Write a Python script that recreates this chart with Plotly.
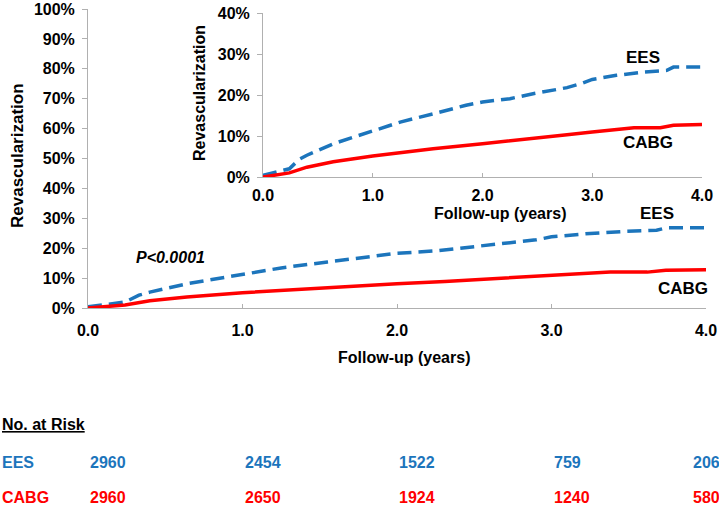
import plotly.graph_objects as go

# cumulative revascularization (years, fraction)
t_ees = [0, 0.1, 0.24, 0.33, 0.4, 0.64, 1.0, 1.25, 1.55, 1.85, 2.0, 2.25, 2.46, 2.77, 2.9, 3.0, 3.22, 3.47, 3.68, 3.74, 4.0]
v_ees = [0.004, 0.01, 0.02, 0.043, 0.053, 0.081, 0.111, 0.134, 0.154, 0.175, 0.183, 0.191, 0.203, 0.218, 0.228, 0.238, 0.248, 0.256, 0.26, 0.268, 0.268]
t_cabg = [0, 0.1, 0.24, 0.4, 0.64, 1.0, 1.55, 2.0, 2.31, 2.77, 3.0, 3.38, 3.62, 3.74, 4.0]
v_cabg = [0.0, 0.004, 0.01, 0.024, 0.037, 0.051, 0.069, 0.081, 0.089, 0.103, 0.11, 0.12, 0.12, 0.126, 0.128]

risk_times = [0, 1, 2, 3, 4]
risk_ees = [2960, 2454, 1522, 759, 206]
risk_cabg = [2960, 2650, 1924, 1240, 580]

BLUE = "#1c75bc"
RED = "#ff0000"
FONT = "Arial, Liberation Sans, sans-serif"
W, H = 719, 515

def px(x):
    return x / W

def py(y):
    return 1 - y / H

fig = go.Figure()
for xa, ya in [("x", "y"), ("x2", "y2")]:
    fig.add_trace(go.Scatter(x=t_ees, y=v_ees, mode="lines", xaxis=xa, yaxis=ya,
                             line=dict(color=BLUE, width=3.5, dash="14px,7px"), showlegend=False))
    fig.add_trace(go.Scatter(x=t_cabg, y=v_cabg, mode="lines", xaxis=xa, yaxis=ya,
                             line=dict(color=RED, width=3.5), showlegend=False))

axcommon = dict(showgrid=False, zeroline=False, showline=True, linecolor="#b0b0b0", linewidth=1,
                tickcolor="#b0b0b0", tickwidth=1, automargin=False, ticklabeloverflow="allow")
tickfont = dict(family=FONT, size=16, color="black", weight="bold")
xtickfont = dict(family=FONT, size=16, color="black", weight="bold")
xticktext = ["0.0", "1.0", "2.0", "3.0", "4.0"]

fig.update_layout(
    width=W, height=H, margin=dict(l=0, r=0, t=0, b=0),
    plot_bgcolor="white", paper_bgcolor="white",
    xaxis=dict(domain=[px(88), px(706)], range=[0, 4], tickvals=risk_times, ticktext=xticktext,
               ticks="inside", ticklen=4, tickfont=xtickfont, ticklabelstandoff=8, anchor="y", **axcommon),
    yaxis=dict(domain=[py(308), py(9)], range=[0, 1], dtick=0.1, tickformat=".0%", ticks="outside", ticklen=5,
               tickfont=tickfont, ticklabelstandoff=4, anchor="x", **axcommon),
    xaxis2=dict(domain=[px(263), px(702)], range=[0, 4], tickvals=risk_times, ticktext=xticktext,
                ticks="inside", ticklen=4, tickfont=xtickfont, ticklabelstandoff=4, anchor="y2", **axcommon),
    yaxis2=dict(domain=[py(177), py(13)], range=[0, 0.4], dtick=0.1, tickformat=".0%", ticks="outside", ticklen=5,
                tickfont=tickfont, ticklabelstandoff=4, anchor="x2", **axcommon),
)

def note(text, x, y, xref="paper", yref="paper", color="black", size=16, xanchor="center", angle=0):
    fig.add_annotation(text=text, x=x, y=y, xref=xref, yref=yref, showarrow=False, xanchor=xanchor,
                       yanchor="middle", textangle=angle,
                       font=dict(family=FONT, size=size, color=color, weight="bold"))

note("Revascularization", px(18), py(156), size=17, angle=-90)
note("Revascularization", px(200), py(93), angle=-90)
note("Follow-up (years)", px(404), py(357))
note("Follow-up (years)", px(500), py(214))
note("EES", px(643), py(57), size=17)
note("CABG", px(648), py(143), size=17)
note("EES", px(657), py(213), size=17)
note("CABG", px(683), py(288), size=17)
note("<i>P<0.0001</i>", px(170), py(257))

note("<u>No. at Risk</u>", 0, py(424), xanchor="left")
note("EES", 0, py(462), color=BLUE, xanchor="left")
note("CABG", 0, py(497), color=RED, xanchor="left")
for i, t in enumerate(risk_times):
    if t < 4:
        note(str(risk_ees[i]), t, py(462), xref="x", color=BLUE, xanchor="left")
        note(str(risk_cabg[i]), t, py(497), xref="x", color=RED, xanchor="left")
    else:
        note(str(risk_ees[i]), px(722), py(462), color=BLUE, xanchor="right")
        note(str(risk_cabg[i]), px(722), py(497), color=RED, xanchor="right")

# drop the default 8px page margin so the figure sits flush at the top-left
fig.write_html("out.html", config={"displayModeBar": False},
               post_script="document.body.style.margin='0';document.body.style.overflow='hidden';")
